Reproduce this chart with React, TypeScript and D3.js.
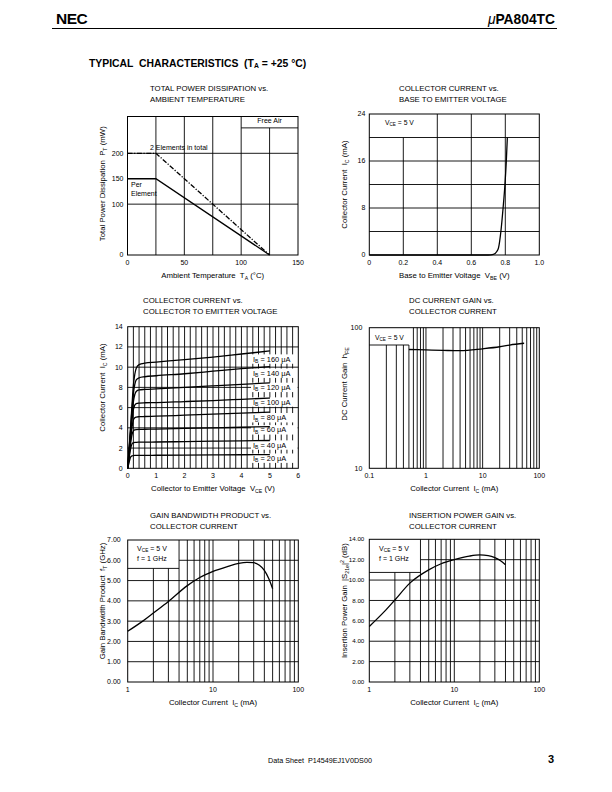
import React from "react";
import * as d3 from "d3";

const FONT = "'Liberation Sans', Arial, Helvetica, sans-serif";

// ---------- Panel 1: Total power dissipation vs ambient temperature
const p1TempTicks = [0, 50, 100, 150];
const p1PowerTicks = [0, 100, 150, 200];
const p1PerElementTemp = [0, 25, 125];
const p1PerElementPower = [150, 150, 0];
const p1TotalTemp = [0, 25, 125];
const p1TotalPower = [200, 200, 0];

// ---------- Panel 2: Collector current vs base-emitter voltage
const p2Vbe = [0, 0.7, 0.73, 0.75, 0.76, 0.774, 0.787, 0.798, 0.806, 0.812];
const p2Ic = [0, 0, 0.1, 0.6, 1.2, 4, 8, 12, 16, 20];
const p2VbeTicks = [0, 0.2, 0.4, 0.6, 0.8, 1.0];
const p2IcTicks = [0, 8, 16, 24];

// ---------- Panel 3: Collector current vs collector-emitter voltage
const p3Vce = [0, 0.05, 0.1, 0.15, 0.2, 0.25, 0.3, 0.4, 0.6, 1, 2, 3, 4, 5];
const p3Ib = [160, 140, 120, 100, 80, 60, 40, 20];
const p3Ic160 = [0, 2.0, 4.0, 6.2, 8.2, 9.3, 9.9, 10.25, 10.4, 10.5, 10.75, 11.0, 11.3, 11.6];
const p3Ic140 = [0, 1.9, 3.8, 5.8, 7.4, 8.3, 8.75, 8.95, 9.05, 9.15, 9.35, 9.6, 9.85, 10.05];
const p3Ic120 = [0, 1.8, 3.5, 5.2, 6.6, 7.3, 7.6, 7.75, 7.8, 7.85, 8.0, 8.15, 8.3, 8.45];
const p3Ic100 = [0, 1.6, 3.2, 4.7, 5.8, 6.25, 6.4, 6.45, 6.48, 6.5, 6.6, 6.7, 6.82, 6.95];
const p3Ic80 = [0, 1.4, 2.8, 4.0, 4.8, 5.0, 5.07, 5.1, 5.12, 5.15, 5.25, 5.35, 5.45, 5.55];
const p3Ic60 = [0, 1.2, 2.4, 3.3, 3.7, 3.8, 3.83, 3.85, 3.86, 3.88, 3.94, 4.0, 4.06, 4.12];
const p3Ic40 = [0, 1.0, 1.9, 2.4, 2.52, 2.56, 2.57, 2.58, 2.59, 2.6, 2.64, 2.68, 2.72, 2.75];
const p3Ic20 = [0, 0.6, 1.1, 1.23, 1.26, 1.27, 1.27, 1.28, 1.28, 1.29, 1.31, 1.32, 1.34, 1.35];
const p3Series = [p3Ic160, p3Ic140, p3Ic120, p3Ic100, p3Ic80, p3Ic60, p3Ic40, p3Ic20];
const p3LabelIc = [10.8, 9.4, 8.0, 6.55, 5.0, 3.8, 2.3, 1.0];
const p3VceTicks = [0, 1, 2, 3, 4, 5, 6];
const p3IcTicks = [0, 2, 4, 6, 8, 10, 12, 14];

// ---------- Panel 4: DC current gain vs collector current
const p4Ic = [0.5, 1, 2, 4, 10, 20, 30, 54];
const p4Hfe = [70, 69.5, 69, 68.6, 70.8, 73.2, 75.3, 77.5];
const p4IcTicks = [0.1, 1, 10, 100];
const p4HfeTicks = [10, 100];

// ---------- Panel 5: Gain bandwidth product vs collector current
const p5Ic = [1, 1.5, 2, 3, 5, 7, 10, 15, 20, 25, 30, 35, 40, 45, 50];
const p5Ft = [2.5, 3.0, 3.4, 3.97, 4.75, 5.15, 5.45, 5.7, 5.85, 5.9, 5.88, 5.75, 5.5, 5.1, 4.6];
const p5FtTicks = [0, 1, 2, 3, 4, 5, 6, 7];
const p5IcTicks = [1, 10, 100];

// ---------- Panel 6: Insertion power gain vs collector current
const p6Ic = [1, 1.5, 2, 3, 5, 7, 10, 15, 20, 25, 30, 35, 40];
const p6Gain = [5.45, 6.9, 8.05, 9.7, 11.0, 11.6, 12.0, 12.35, 12.47, 12.4, 12.2, 11.9, 11.5];
const p6GainTicks = [0, 2, 4, 6, 8, 10, 12, 14];
const p6IcTicks = [1, 10, 100];

const GW = 0.9; // grid width
const CW = 1.3; // curve width
const TICK = 7;
const TITLE = 7.8;
const AX = 7.8;

const L = (p: { x1: number; y1: number; x2: number; y2: number; w?: number }) => (
  <line x1={p.x1} y1={p.y1} x2={p.x2} y2={p.y2} stroke="#000" strokeWidth={p.w ?? GW} />
);

const Title = ({ x, y, l1, l2 }: { x: number; y: number; l1: string; l2: string }) => (
  <g fontSize={TITLE}>
    <text x={x} y={y}>{l1}</text>
    <text x={x} y={y + 10.5}>{l2}</text>
  </g>
);

const logGrid = (lo: number, hi: number) => {
  const out: number[] = [];
  for (let d = lo; d < hi; d *= 10) for (let k = 2; k <= 9; k++) out.push(d * k);
  return out;
};

function Panel1() {
  const B = { l: 127.5, r: 298, t: 116.5, b: 255 };
  const x = d3.scaleLinear().domain([0, 150]).range([B.l, B.r]);
  const y = d3.scaleLinear().domain([0, 200]).range([B.b, 153.3]);
  const ln = d3.line<number>().x((_, i) => x(p1PerElementTemp[i])).y((d) => y(d));
  const lt = d3.line<number>().x((_, i) => x(p1TotalTemp[i])).y((d) => y(d));
  return (
    <g>
      <Title x={150} y={91} l1="TOTAL POWER DISSIPATION vs." l2="AMBIENT TEMPERATURE" />
      {[25, 50, 75, 100].map((v) => <L key={v} x1={x(v)} y1={B.t} x2={x(v)} y2={B.b} />)}
      <L x1={x(125)} y1={y(250)} x2={x(125)} y2={B.b} />
      {[100, 200].map((v) => <L key={v} x1={B.l} y1={y(v)} x2={B.r} y2={y(v)} />)}
      <L x1={x(100)} y1={y(250)} x2={B.r} y2={y(250)} />
      <rect x={B.l} y={B.t} width={B.r - B.l} height={B.b - B.t} fill="none" stroke="#000" strokeWidth={1} />
      <text x={(x(100) + x(150)) / 2} y={y(250) - 5} fontSize={TICK} textAnchor="middle">Free Air</text>
      <path d={ln(p1PerElementPower) || ""} fill="none" stroke="#000" strokeWidth={CW} />
      <path d={lt(p1TotalPower) || ""} fill="none" stroke="#000" strokeWidth={CW} strokeDasharray="5 1.6 1.2 1.6" />
      <text x={150} y={150} fontSize={TICK}>2 Elements in total</text>
      <text x={131} y={187} fontSize={TICK}>Per</text>
      <text x={131} y={196} fontSize={TICK}>Element</text>
      {p1TempTicks.map((v) => (
        <text key={v} x={x(v)} y={B.b + 9.5} fontSize={TICK} textAnchor="middle">{v}</text>
      ))}
      {p1PowerTicks.map((v) => (
        <text key={v} x={B.l - 4} y={y(v)} dy="0.35em" fontSize={TICK} textAnchor="end">{v}</text>
      ))}
      <text x={(B.l + B.r) / 2} y={B.b + 23} fontSize={AX} textAnchor="middle" style={{ whiteSpace: "pre" }}>
        Ambient Temperature  T<tspan fontSize={5.2} dy={1.5}>A</tspan><tspan dy={-1.5}> (°C)</tspan>
      </text>
      <text transform={`translate(105,${(B.t + B.b) / 2 - 2}) rotate(-90)`} fontSize={AX} textAnchor="middle" style={{ whiteSpace: "pre" }}>
        Total Power Dissipation  P<tspan fontSize={5.2} dy={1.5}>T</tspan><tspan dy={-1.5}> (mW)</tspan>
      </text>
    </g>
  );
}

function Panel2() {
  const B = { l: 369.3, r: 539.3, t: 114, b: 255 };
  const x = d3.scaleLinear().domain([0, 1]).range([B.l, B.r]);
  const y = d3.scaleLinear().domain([0, 24]).range([B.b, B.t]);
  const line = d3.line<number>().x((_, i) => x(p2Vbe[i])).y((d) => y(d)).curve(d3.curveMonotoneX);
  return (
    <g>
      <Title x={399} y={91} l1="COLLECTOR CURRENT vs." l2="BASE TO EMITTER VOLTAGE" />
      <L x1={x(0.2)} y1={y(20)} x2={x(0.2)} y2={B.b} />
      {[0.4, 0.6, 0.8].map((v) => <L key={v} x1={x(v)} y1={B.t} x2={x(v)} y2={B.b} />)}
      {[4, 8, 12, 16, 20].map((v) => <L key={v} x1={B.l} y1={y(v)} x2={B.r} y2={y(v)} />)}
      <rect x={B.l} y={B.t} width={B.r - B.l} height={B.b - B.t} fill="none" stroke="#000" strokeWidth={1} />
      <text x={385} y={125} fontSize={6.8} style={{ whiteSpace: "pre" }}>
        V<tspan fontSize={4.6} dy={1.3}>CE</tspan><tspan dy={-1.3}> = 5 V</tspan>
      </text>
      <path d={line(p2Ic) || ""} fill="none" stroke="#000" strokeWidth={CW} />
      {p2VbeTicks.map((v) => (
        <text key={v} x={x(v)} y={B.b + 9.5} fontSize={TICK} textAnchor="middle">{v === 0 ? "0" : v.toFixed(1)}</text>
      ))}
      {p2IcTicks.map((v) => (
        <text key={v} x={B.l - 4} y={y(v)} dy="0.35em" fontSize={TICK} textAnchor="end">{v}</text>
      ))}
      <text x={(B.l + B.r) / 2} y={B.b + 23} fontSize={AX} textAnchor="middle" style={{ whiteSpace: "pre" }}>
        Base to Emitter Voltage  V<tspan fontSize={5.2} dy={1.5}>BE</tspan><tspan dy={-1.5}> (V)</tspan>
      </text>
      <text transform={`translate(347,${(B.t + B.b) / 2}) rotate(-90)`} fontSize={AX} textAnchor="middle" style={{ whiteSpace: "pre" }}>
        Collector Current  I<tspan fontSize={5.2} dy={1.5}>C</tspan><tspan dy={-1.5}> (mA)</tspan>
      </text>
    </g>
  );
}

function Panel3() {
  const B = { l: 127.7, r: 298.3, t: 326.7, b: 468.3 };
  const x = d3.scaleLinear().domain([0, 6]).range([B.l, B.r]);
  const y = d3.scaleLinear().domain([0, 14]).range([B.b, B.t]);
  const line = d3.line<number>().x((_, i) => x(p3Vce[i])).y((d) => y(d)).curve(d3.curveMonotoneX);
  const gx = d3.range(1, 30).map((k) => k * 0.2);
  return (
    <g>
      <Title x={143} y={303} l1="COLLECTOR CURRENT vs." l2="COLLECTOR TO EMITTER VOLTAGE" />
      {gx.map((v) => <L key={v} x1={x(v)} y1={B.t} x2={x(v)} y2={B.b} />)}
      {[2, 4, 6, 8, 10, 12].map((v) => <L key={v} x1={B.l} y1={y(v)} x2={B.r} y2={y(v)} />)}
      {p3Ib.map((ib, i) => (
        <rect key={ib} x={251} y={y(p3LabelIc[i]) - 4.7} width={46.6} height={9.4} fill="#fff" />
      ))}
      <rect x={B.l} y={B.t} width={B.r - B.l} height={B.b - B.t} fill="none" stroke="#000" strokeWidth={1} />
      {p3Series.map((s, i) => (
        <path key={i} d={line(s) || ""} fill="none" stroke="#000" strokeWidth={CW} />
      ))}
      {p3Ib.map((ib, i) => (
        <text key={ib} x={253} y={y(p3LabelIc[i]) + 2.6} fontSize={7.4} style={{ whiteSpace: "pre" }}>
          I<tspan fontSize={5} dy={1.3}>B</tspan><tspan dy={-1.3}>{` = ${ib} μA`}</tspan>
        </text>
      ))}
      {p3VceTicks.map((v) => (
        <text key={v} x={x(v)} y={B.b + 9.5} fontSize={TICK} textAnchor="middle">{v}</text>
      ))}
      {p3IcTicks.map((v) => (
        <text key={v} x={B.l - 5} y={y(v)} dy="0.35em" fontSize={TICK} textAnchor="end">{v}</text>
      ))}
      <text x={(B.l + B.r) / 2} y={B.b + 23} fontSize={AX} textAnchor="middle" style={{ whiteSpace: "pre" }}>
        Collector to Emitter Voltage  V<tspan fontSize={5.2} dy={1.5}>CE</tspan><tspan dy={-1.5}> (V)</tspan>
      </text>
      <text transform={`translate(105,${(B.t + B.b) / 2 - 10}) rotate(-90)`} fontSize={AX} textAnchor="middle" style={{ whiteSpace: "pre" }}>
        Collector Current  I<tspan fontSize={5.2} dy={1.5}>C</tspan><tspan dy={-1.5}> (mA)</tspan>
      </text>
    </g>
  );
}

function Panel4() {
  const B = { l: 369.3, r: 539.3, t: 327.7, b: 468.3 };
  const x = d3.scaleLog().domain([0.1, 100]).range([B.l, B.r]);
  const y = d3.scaleLog().domain([10, 100]).range([B.b, B.t]);
  const line = d3.line<number>().x((_, i) => x(p4Ic[i])).y((d) => y(d)).curve(d3.curveMonotoneX);
  const boxB = 345;
  const gx = logGrid(0.1, 100).concat([1, 10]);
  return (
    <g>
      <Title x={409} y={303} l1="DC CURRENT GAIN vs." l2="COLLECTOR CURRENT" />
      {gx.map((v) => (
        <L key={v} x1={x(v)} y1={v <= 0.5 ? boxB : B.t} x2={x(v)} y2={B.b} />
      ))}
      <L x1={B.l} y1={boxB} x2={x(0.5)} y2={boxB} />
      <rect x={B.l} y={B.t} width={B.r - B.l} height={B.b - B.t} fill="none" stroke="#000" strokeWidth={1} />
      <text x={375} y={340} fontSize={6.8} style={{ whiteSpace: "pre" }}>
        V<tspan fontSize={4.6} dy={1.3}>CE</tspan><tspan dy={-1.3}> = 5 V</tspan>
      </text>
      <path d={line(p4Hfe) || ""} fill="none" stroke="#000" strokeWidth={CW} />
      {p4IcTicks.map((v) => (
        <text key={v} x={x(v)} y={B.b + 9.5} fontSize={TICK} textAnchor="middle">{String(v)}</text>
      ))}
      {p4HfeTicks.map((v) => (
        <text key={v} x={B.l - 7} y={y(v)} dy="0.35em" fontSize={TICK} textAnchor="end">{v}</text>
      ))}
      <text x={(B.l + B.r) / 2} y={B.b + 23} fontSize={AX} textAnchor="middle" style={{ whiteSpace: "pre" }}>
        Collector Current  I<tspan fontSize={5.2} dy={1.5}>C</tspan><tspan dy={-1.5}> (mA)</tspan>
      </text>
      <text transform={`translate(347,${(B.t + B.b) / 2 - 14}) rotate(-90)`} fontSize={AX} textAnchor="middle" style={{ whiteSpace: "pre" }}>
        DC Current Gain  h<tspan fontSize={5.2} dy={1.5}>FE</tspan>
      </text>
    </g>
  );
}

function Panel5() {
  const B = { l: 127.7, r: 298.3, t: 540, b: 682 };
  const x = d3.scaleLog().domain([1, 100]).range([B.l, B.r]);
  const y = d3.scaleLinear().domain([0, 7]).range([B.b, B.t]);
  const line = d3.line<number>().x((_, i) => x(p5Ic[i])).y((d) => y(d)).curve(d3.curveMonotoneX);
  const boxB = y(5.6);
  const gx = logGrid(1, 100).concat([10]);
  return (
    <g>
      <Title x={150} y={518} l1="GAIN BANDWIDTH PRODUCT vs." l2="COLLECTOR CURRENT" />
      {gx.map((v) => (
        <L key={v} x1={x(v)} y1={v < 4 ? boxB : B.t} x2={x(v)} y2={B.b} />
      ))}
      {[1, 2, 3, 4, 5].map((v) => <L key={v} x1={B.l} y1={y(v)} x2={B.r} y2={y(v)} />)}
      <L x1={x(4)} y1={y(6)} x2={B.r} y2={y(6)} />
      <L x1={B.l} y1={boxB} x2={x(4)} y2={boxB} />
      <rect x={B.l} y={B.t} width={B.r - B.l} height={B.b - B.t} fill="none" stroke="#000" strokeWidth={1} />
      <text x={137} y={551} fontSize={7} style={{ whiteSpace: "pre" }}>
        V<tspan fontSize={4.8} dy={1.3}>CE</tspan><tspan dy={-1.3}> = 5 V</tspan>
      </text>
      <text x={137} y={561} fontSize={7}>f = 1 GHz</text>
      <path d={line(p5Ft) || ""} fill="none" stroke="#000" strokeWidth={CW} />
      {p5IcTicks.map((v) => (
        <text key={v} x={x(v)} y={B.b + 9.5} fontSize={TICK} textAnchor="middle">{v}</text>
      ))}
      {p5FtTicks.map((v) => (
        <text key={v} x={B.l - 7} y={y(v)} dy="0.35em" fontSize={TICK} textAnchor="end">{v.toFixed(2)}</text>
      ))}
      <text x={(B.l + B.r) / 2} y={B.b + 23} fontSize={AX} textAnchor="middle" style={{ whiteSpace: "pre" }}>
        Collector Current  I<tspan fontSize={5.2} dy={1.5}>C</tspan><tspan dy={-1.5}> (mA)</tspan>
      </text>
      <text transform={`translate(105,${(B.t + B.b) / 2 - 10}) rotate(-90)`} fontSize={AX} textAnchor="middle" style={{ whiteSpace: "pre" }}>
        Gain Bandwidth Product  f<tspan fontSize={5.2} dy={1.5}>T</tspan><tspan dy={-1.5}> (GHz)</tspan>
      </text>
    </g>
  );
}

function Panel6() {
  const B = { l: 369.3, r: 539.3, t: 539.3, b: 682 };
  const x = d3.scaleLog().domain([1, 100]).range([B.l, B.r]);
  const y = d3.scaleLinear().domain([0, 14]).range([B.b, B.t]);
  const line = d3.line<number>().x((_, i) => x(p6Ic[i])).y((d) => y(d)).curve(d3.curveMonotoneX);
  const boxB = y(10.75);
  const gx = logGrid(1, 100).concat([10]);
  return (
    <g>
      <Title x={409} y={518} l1="INSERTION POWER GAIN vs." l2="COLLECTOR CURRENT" />
      {gx.map((v) => (
        <L key={v} x1={x(v)} y1={v < 4 ? boxB : B.t} x2={x(v)} y2={B.b} />
      ))}
      {[2, 4, 6, 8, 10].map((v) => <L key={v} x1={B.l} y1={y(v)} x2={B.r} y2={y(v)} />)}
      <L x1={x(4)} y1={y(12)} x2={B.r} y2={y(12)} />
      <L x1={B.l} y1={boxB} x2={x(4)} y2={boxB} />
      <rect x={B.l} y={B.t} width={B.r - B.l} height={B.b - B.t} fill="none" stroke="#000" strokeWidth={1} />
      <text x={379} y={551} fontSize={7} style={{ whiteSpace: "pre" }}>
        V<tspan fontSize={4.8} dy={1.3}>CE</tspan><tspan dy={-1.3}> = 5 V</tspan>
      </text>
      <text x={379} y={561} fontSize={7}>f = 1 GHz</text>
      <path d={line(p6Gain) || ""} fill="none" stroke="#000" strokeWidth={CW} />
      {p6IcTicks.map((v) => (
        <text key={v} x={x(v)} y={B.b + 9.5} fontSize={TICK} textAnchor="middle">{v}</text>
      ))}
      {p6GainTicks.map((v) => (
        <text key={v} x={B.l - 5} y={y(v)} dy="0.35em" fontSize={6.2} textAnchor="end">{v.toFixed(2)}</text>
      ))}
      <text x={(B.l + B.r) / 2} y={B.b + 23} fontSize={AX} textAnchor="middle" style={{ whiteSpace: "pre" }}>
        Collector Current  I<tspan fontSize={5.2} dy={1.5}>C</tspan><tspan dy={-1.5}> (mA)</tspan>
      </text>
      <text transform={`translate(347,${(B.t + B.b) / 2 - 10}) rotate(-90)`} fontSize={AX} textAnchor="middle" style={{ whiteSpace: "pre" }}>
        Insertion Power Gain  |S<tspan fontSize={5.2} dy={1.5}>21e</tspan><tspan dy={-1.5}>|</tspan><tspan fontSize={5.2} dy={-3}>2</tspan><tspan dy={3}> (dB)</tspan>
      </text>
    </g>
  );
}

export default function App() {
  return (
    <svg
      width={612}
      height={792}
      viewBox="0 0 612 792"
      style={{ position: "absolute", left: 0, top: 0, background: "#fff" }}
      fontFamily={FONT}
    >
      <rect x={0} y={0} width={612} height={792} fill="#fff" />
      {/* header */}
      <text x={56} y={24} fontSize={15.5} fontWeight="bold" letterSpacing={-0.5}>NEC</text>
      <text x={555} y={24} fontSize={13.8} fontWeight="bold" textAnchor="end">
        <tspan fontStyle="italic" fontWeight="normal">μ</tspan>PA804TC
      </text>
      <line x1={52} y1={28.5} x2={557} y2={28.5} stroke="#000" strokeWidth={1} />
      <text x={89} y={66.5} fontSize={10.4} fontWeight="bold" style={{ whiteSpace: "pre" }}>
        TYPICAL  CHARACTERISTICS  (T<tspan fontSize={6.8} dy={1.5}>A</tspan><tspan dy={-1.5}> = +25 °C)</tspan>
      </text>
      <Panel1 />
      <Panel2 />
      <Panel3 />
      <Panel4 />
      <Panel5 />
      <Panel6 />
      {/* footer */}
      <text x={268} y={762.5} fontSize={7.2} style={{ whiteSpace: "pre" }}>Data Sheet  P14549EJ1V0DS00</text>
      <text x={554} y={763} fontSize={11} fontWeight="bold" textAnchor="end">3</text>
    </svg>
  );
}
